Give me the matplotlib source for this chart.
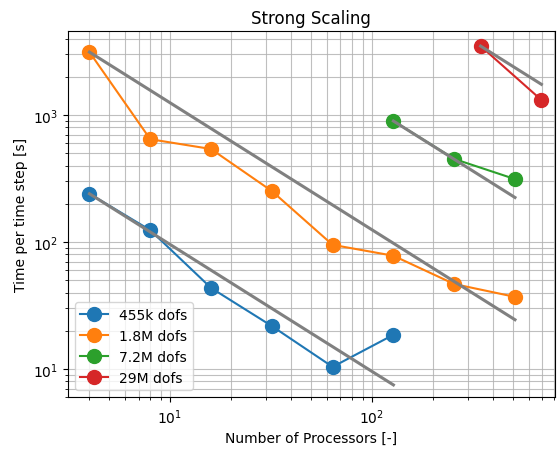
import numpy as np
import matplotlib
matplotlib.use("Agg")
import matplotlib.pyplot as plt

# processor counts and time per step for each problem size
procs_455k = [4, 8, 16, 32, 64, 128]
time_455k = [240, 124, 43.5, 21.8, 10.4, 18.6]

procs_1_8m = [4, 8, 16, 32, 64, 128, 256, 512]
time_1_8m = [3130, 645, 540, 252, 95, 78, 46.7, 37]

procs_7_2m = [128, 256, 512]
time_7_2m = [897, 451, 313]

procs_29m = [346, 692]
time_29m = [3490, 1313]

labels = ["455k dofs", "1.8M dofs", "7.2M dofs", "29M dofs"]

series = [
    (procs_455k, time_455k),
    (procs_1_8m, time_1_8m),
    (procs_7_2m, time_7_2m),
    (procs_29m, time_29m),
]

fig, ax = plt.subplots(figsize=(5.57, 4.52), dpi=100)

for (p, t), lab in zip(series, labels):
    ax.plot(p, t, "o-", markersize=10, label=lab)

# ideal strong scaling from the first point of each series
for p, t in series:
    p = np.array(p, dtype=float)
    ideal = t[0] * p[0] / p
    ax.plot([p[0], p[-1]], [ideal[0], ideal[-1]], color="gray", linewidth=2.2)

ax.set_xscale("log")
ax.set_yscale("log")
ax.set_xlim(3.13, 806)
ax.set_ylim(6.0, 4580)
ax.grid(True, which="both", color="#b0b0b0", linewidth=0.8, alpha=0.8)
ax.set_xlabel("Number of Processors [-]")
ax.set_ylabel("Time per time step [s]")
ax.set_title("Strong Scaling")
ax.legend(loc="lower left")

fig.subplots_adjust(left=0.122, right=0.996, top=0.929, bottom=0.119)
fig.savefig("out.png", dpi=100)
